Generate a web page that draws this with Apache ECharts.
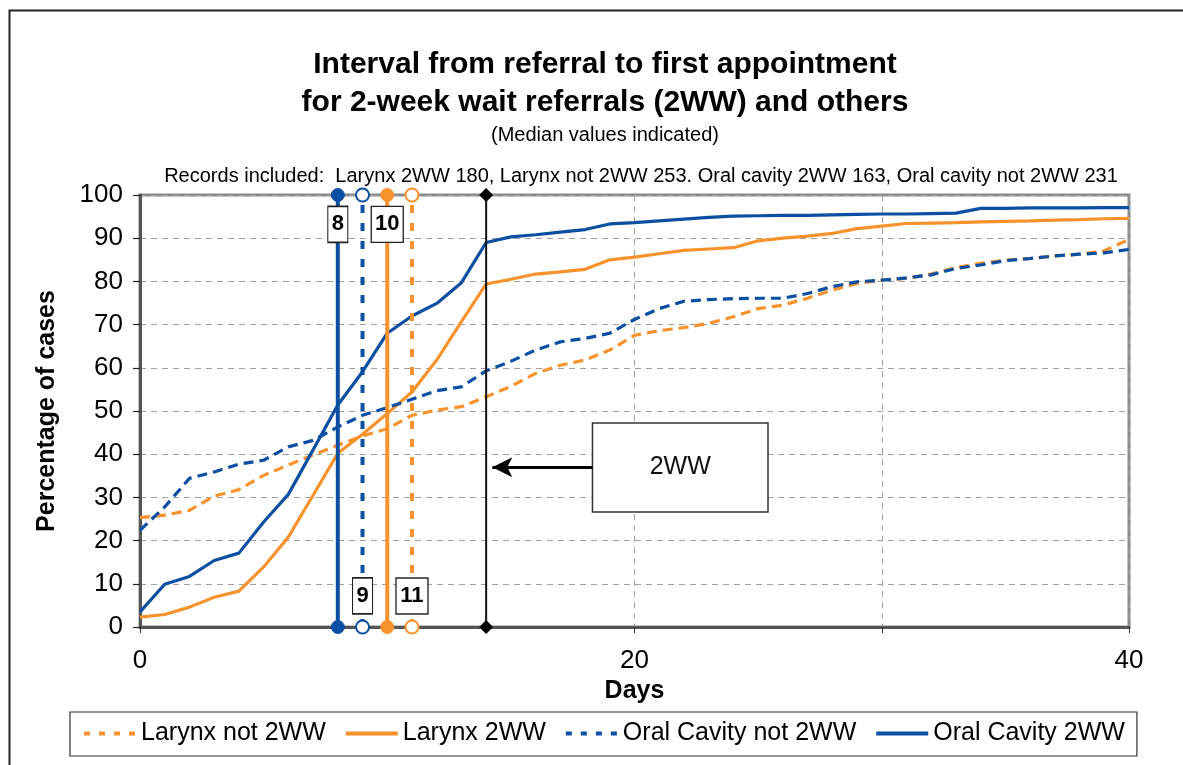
<!DOCTYPE html>
<html>
<head>
<meta charset="utf-8">
<script src="https://cdn.jsdelivr.net/npm/echarts@6/dist/echarts.min.js"></script>
<style>
html,body{margin:0;padding:0;background:#fff;}
#chart{width:1183px;height:765px;}
</style>
</head>
<body>
<div id="chart"></div>
<script>
// ---- data ----
const days = [0,1,2,3,4,5,6,7,8,9,10,11,12,13,14,15,16,17,18,19,20,21,22,23,24,25,26,27,28,29,30,31,32,33,34,35,36,37,38,39,40];
const larynxNot2WW = [25.3,25.9,27,30.3,31.8,35.1,37.5,39.8,42.1,44.2,45.9,49,50.2,51,53.3,55.7,58.7,60.6,61.8,64.1,67.5,68.6,69.3,70.3,71.8,73.7,74.5,76.1,78,79.5,80.3,80.7,81.7,83.2,84.2,84.9,85.3,85.9,86.3,87.1,89.7];
const larynx2WW = [2.3,2.9,4.6,6.9,8.3,13.9,20.8,30.5,40.2,44.6,49.4,54.4,61.8,70.7,79.4,80.5,81.7,82.2,82.8,85,85.6,86.4,87.2,87.5,87.8,89.4,90,90.5,91.1,92.2,92.8,93.4,93.5,93.6,93.8,93.9,94,94.2,94.3,94.5,94.6];
const oralNot2WW = [22.4,27.8,34.4,35.9,37.7,38.6,41.7,43.2,46.3,49,50.8,52.7,54.7,55.6,59.3,61.5,64.1,66,66.8,68,71.2,73.7,75.4,75.8,76,76.1,76.1,77.2,78.8,79.9,80.3,80.8,81.5,83,83.8,84.8,85.3,85.9,86.3,86.6,87.4];
const oral2WW = [3.5,9.9,11.7,15.4,17.1,24.3,30.7,41,51.4,59.1,68,72,74.9,79.7,89,90.3,90.8,91.4,92,93.3,93.6,94,94.4,94.8,95.1,95.2,95.3,95.3,95.4,95.5,95.6,95.6,95.7,95.8,96.9,96.9,97,97,97,97.1,97.1];
const seriesNames = ['Larynx not 2WW','Larynx 2WW','Oral Cavity not 2WW','Oral Cavity 2WW'];
const medians = {'Larynx not 2WW':11,'Larynx 2WW':10,'Oral Cavity not 2WW':9,'Oral Cavity 2WW':8};
const twoWeekDay = 14;
const xLabelledTicks = [0,20,40];
const yTicks = [0,10,20,30,40,50,60,70,80,90,100];

const titleText = 'Interval from referral to first appointment\nfor 2-week wait referrals (2WW) and others';
const subtitleText = '(Median values indicated)';
const recordsText = 'Records included:  Larynx 2WW 180, Larynx not 2WW 253. Oral cavity 2WW 163, Oral cavity not 2WW 231';
const boxLabel = '2WW';

// ---- styles ----
const BLUE = '#0b4fa3', ORANGE = '#f7922d';
const FONT = '"Liberation Sans", Arial, sans-serif';
const pair = (arr) => days.map((d,i)=>[d,arr[i]]);
const DASH = [10,6];

function curve(name, arr, color, dashed){
  return {name, type:'line', data:pair(arr), showSymbol:false, symbol:'none', z:3,
    lineStyle:{color, width:3.2, type: dashed ? DASH : 'solid'}, itemStyle:{color}};
}
function medianLine(name, color, filled){
  const m = medians[name];
  return {type:'line', data:[[m,0],[m,100]], clip:false, z:4, silent:true,
    symbol:'circle', symbolSize:13, showSymbol:true,
    lineStyle:{color, width: 4, type: filled ? 'solid' : [8,10]},
    itemStyle: filled ? {color, borderColor:color, borderWidth:1} : {color:'#fff', borderColor:color, borderWidth:2}};
}
function medianLabel(name, yVal){
  const m = medians[name];
  const digits = String(m).length;
  return {type:'scatter', data:[[m,yVal]], symbol:'rect', symbolSize:[8 + 12*digits, 36], z:6, silent:true, clip:false,
    itemStyle:{color:'#fff', borderColor:'#222', borderWidth:1.4, opacity:1},
    label:{show:true, position:'inside', formatter:String(m), fontFamily:FONT, fontWeight:'bold', fontSize:22, color:'#000'}};
}
function legendItem(name, dashed){
  return {name, itemStyle:{color:'rgba(0,0,0,0)', borderWidth:0},
    lineStyle:{width:4, type: dashed ? [6,9] : 'solid'}};
}

const option = {
  backgroundColor:'#fff',
  animation:false,
  title:[
    {text:titleText, left:600, textAlign:'center', top:41,
     textStyle:{fontFamily:FONT, fontWeight:'bold', fontSize:30, lineHeight:38, color:'#000'}},
    {text:subtitleText, left:600, textAlign:'center', top:120,
     textStyle:{fontFamily:FONT, fontWeight:'normal', fontSize:20, color:'#000'}},
    {text:recordsText, left:636, textAlign:'center', top:161,
     textStyle:{fontFamily:FONT, fontWeight:'normal', fontSize:20, color:'#000'}}
  ],
  grid:{left:140, right:54, top:195, bottom:138, show:true, borderColor:'#8a8a8a', borderWidth:3, backgroundColor:'transparent'},
  legend:{data:[legendItem(seriesNames[0],true),legendItem(seriesNames[1],false),legendItem(seriesNames[2],true),legendItem(seriesNames[3],false)],
    left:70, top:712, orient:'horizontal',
    padding:[9,12,10,12], itemGap:18, itemWidth:52, itemHeight:14,
    borderColor:'#333', borderWidth:1.2, backgroundColor:'#fff',
    textStyle:{fontFamily:FONT, fontSize:25, color:'#000'}},
  xAxis:{type:'value', min:0, max:40, interval:10,
    name:'Days', nameLocation:'middle', nameGap:48,
    nameTextStyle:{fontFamily:FONT, fontWeight:'bold', fontSize:25, color:'#000'},
    axisLine:{show:true, lineStyle:{color:'#555', width:3}},
    axisTick:{show:true, length:6, lineStyle:{color:'#333', width:1}},
    axisLabel:{fontFamily:FONT, fontSize:26, color:'#000', margin:21,
      formatter:(v)=> xLabelledTicks.includes(v) ? String(v) : ''},
    splitLine:{show:true, lineStyle:{color:'#a0a0a0', type:[6,5], width:1}}},
  yAxis:{type:'value', min:0, max:100, interval:10,
    name:'Percentage of cases', nameLocation:'middle', nameGap:80,
    nameTextStyle:{fontFamily:FONT, fontWeight:'bold', fontSize:25, color:'#000'},
    axisLine:{show:true, lineStyle:{color:'#555', width:3}},
    axisTick:{show:true, length:7, lineStyle:{color:'#222', width:1.2}},
    axisLabel:{fontFamily:FONT, fontSize:26, color:'#000', margin:17,
      formatter:(v)=> yTicks.includes(v) ? String(v) : ''},
    splitLine:{show:true, lineStyle:{color:'#a0a0a0', type:[6,5], width:1}}},
  series:[
    curve(seriesNames[0], larynxNot2WW, ORANGE, true),
    curve(seriesNames[1], larynx2WW, ORANGE, false),
    curve(seriesNames[2], oralNot2WW, BLUE, true),
    curve(seriesNames[3], oral2WW, BLUE, false),
    medianLine('Oral Cavity 2WW', BLUE, true),
    medianLine('Oral Cavity not 2WW', BLUE, false),
    medianLine('Larynx 2WW', ORANGE, true),
    medianLine('Larynx not 2WW', ORANGE, false),
    {type:'line', data:[[twoWeekDay,0],[twoWeekDay,100]], clip:false, z:4, silent:true,
     symbol:'diamond', symbolSize:14, showSymbol:true,
     lineStyle:{color:'#111', width:2}, itemStyle:{color:'#000'},
     markArea:{silent:true, z:5,
       itemStyle:{color:'#fff', borderColor:'#333', borderWidth:1.5, opacity:1},
       label:{show:true, position:'inside', formatter:boxLabel, fontFamily:FONT, fontSize:25, color:'#111'},
       data:[[{coord:[18.3,47.2]},{coord:[25.4,26.6]}]]},
     markLine:{silent:true, symbol:['none','arrow'], symbolSize:[15,20],
       lineStyle:{color:'#000', width:3, type:'solid'}, label:{show:false},
       data:[[{coord:[18.3,37]},{coord:[14.25,37]}]]}},
    medianLabel('Oral Cavity 2WW', 93.2),
    medianLabel('Larynx 2WW', 93.2),
    medianLabel('Oral Cavity not 2WW', 7.2),
    medianLabel('Larynx not 2WW', 7.2)
  ],
  graphic:[
    {type:'rect', silent:true, z:-10, shape:{x:9.5, y:10.5, width:1400, height:1000},
     style:{fill:'none', stroke:'#222', lineWidth:2}}
  ]
};

const chart = echarts.init(document.getElementById('chart'), null, {renderer:'canvas'});
chart.setOption(option);
</script>
</body>
</html>
